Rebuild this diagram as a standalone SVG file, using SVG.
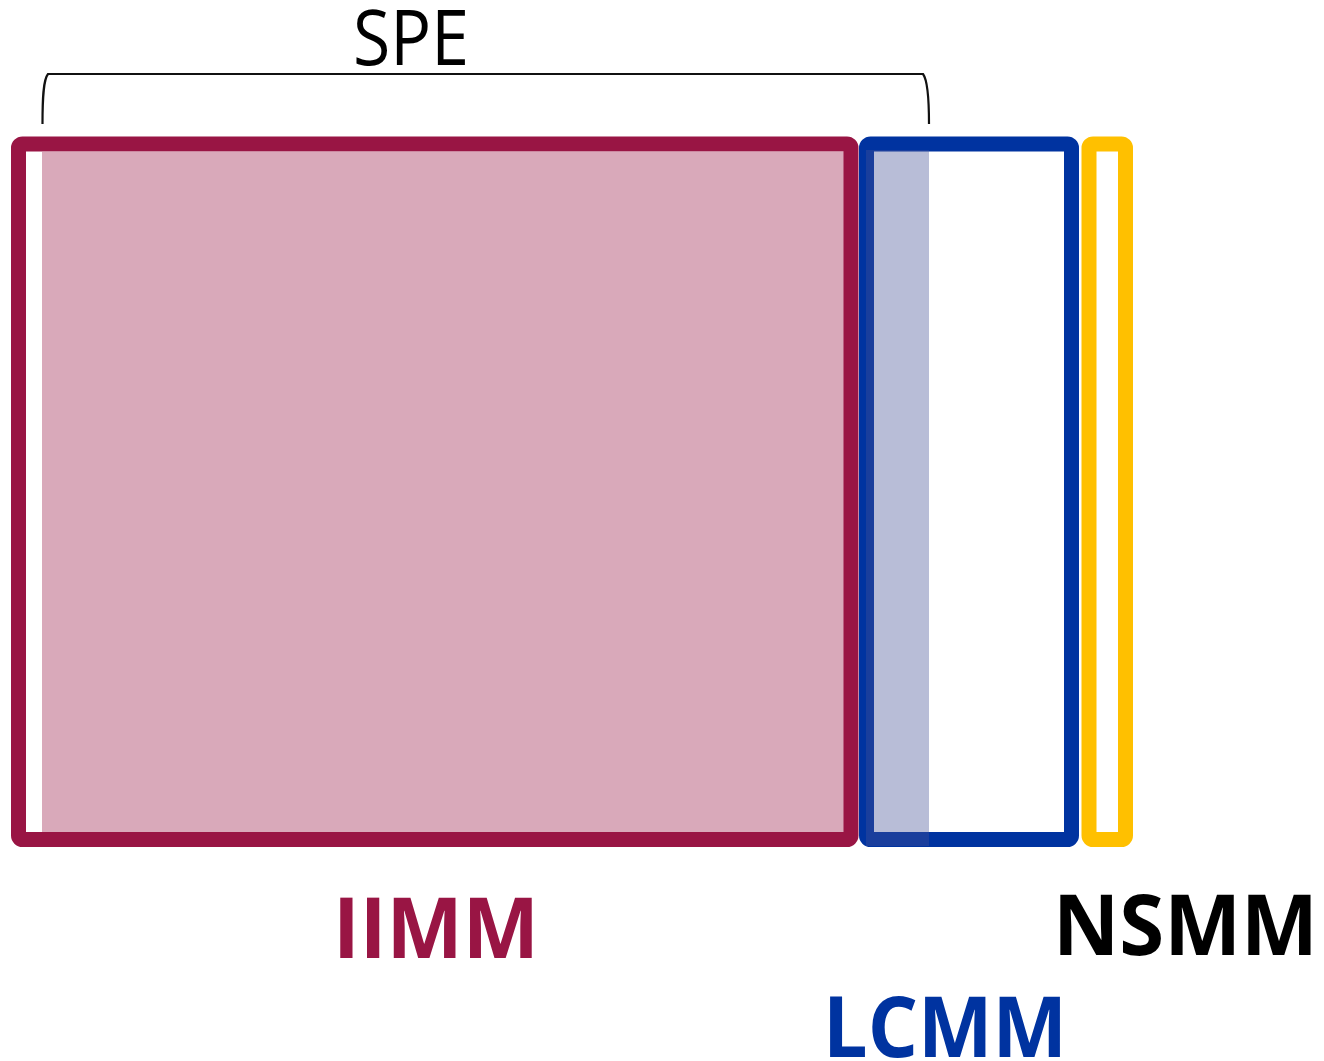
<svg xmlns="http://www.w3.org/2000/svg" width="1324" height="1061" viewBox="0 0 1324 1061">
  <style>
    .frame { fill: none; stroke-width: 15; stroke-linejoin: round; }
    .label { font-family: "Open Sans", "Liberation Sans", sans-serif; font-weight: bold; font-size: 85px; }
    .brace { fill: none; stroke: #111; stroke-width: 2.2; }
  </style>
  <rect width="1324" height="1061" fill="#ffffff"/>

  <!-- IIMM block -->
  <g id="iimm">
    <rect x="42" y="152" width="802" height="680" fill="#991544" fill-opacity="0.37"/>
    <rect class="frame" x="18.5" y="144" width="832.5" height="695.5" rx="4" stroke="#991544"/>
    <text class="label" x="333" y="958" fill="#991544" textLength="206" lengthAdjust="spacingAndGlyphs">IIMM</text>
  </g>

  <!-- LCMM block -->
  <g id="lcmm">
    <rect class="frame" x="866.5" y="144" width="205" height="695.5" rx="4" stroke="#0033A0"/>
    <rect x="866" y="150" width="63" height="696" fill="#445196" fill-opacity="0.38"/>
    <text class="label" x="823" y="1057" fill="#0033A0" textLength="244" lengthAdjust="spacingAndGlyphs">LCMM</text>
  </g>

  <!-- NSMM block -->
  <g id="nsmm">
    <rect class="frame" x="1089" y="144" width="36.5" height="695.5" rx="4" stroke="#FFC000"/>
    <text class="label" x="1053" y="955" fill="#000000" textLength="265" lengthAdjust="spacingAndGlyphs">NSMM</text>
  </g>

  <!-- SPE bracket -->
  <g id="connectors">
    <path class="brace" d="M42.5,124 C42.5,100 43,80 48,74 L923,74 C927.5,80 929,100 929,124"/>
  </g>
  <g id="spe">
    <text x="353" y="65" font-family="Open Sans, Liberation Sans, sans-serif" font-size="77" fill="#000000" textLength="116" lengthAdjust="spacingAndGlyphs">SPE</text>
  </g>
</svg>
